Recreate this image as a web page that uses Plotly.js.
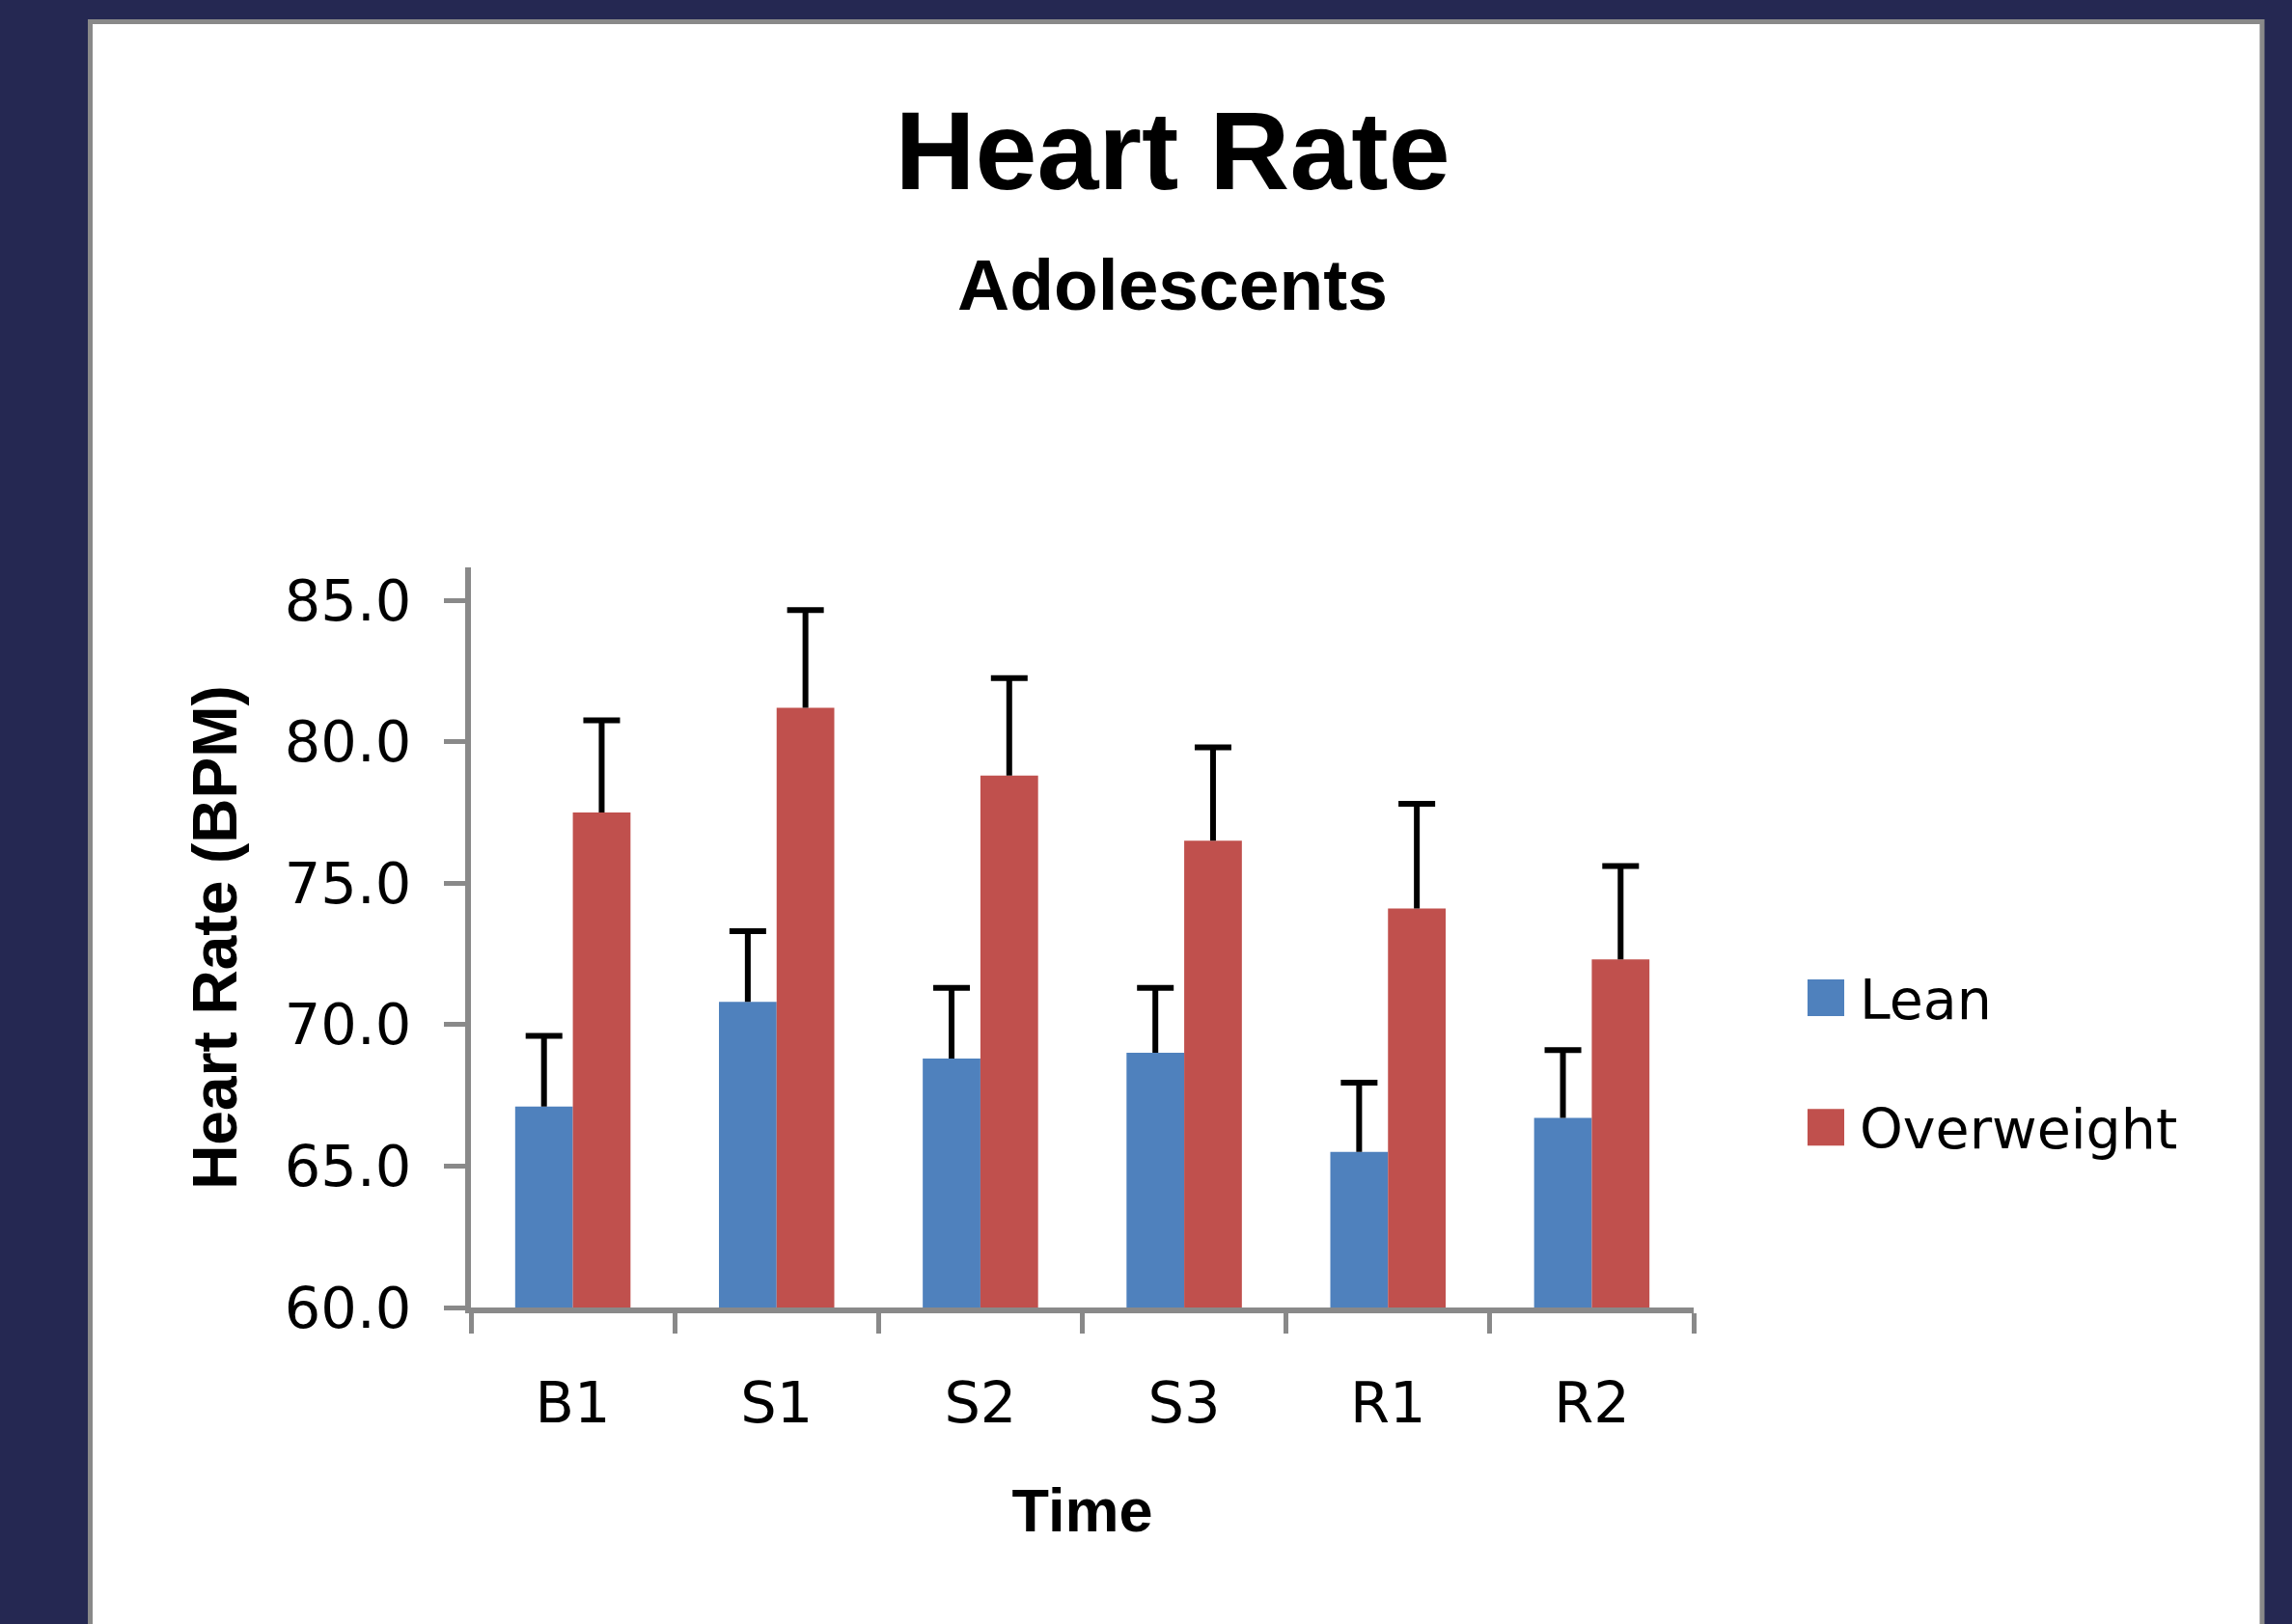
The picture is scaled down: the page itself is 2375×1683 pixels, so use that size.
<!DOCTYPE html>
<html><head><meta charset="utf-8">
<script src="https://cdn.plot.ly/plotly-3.0.1.min.js"></script>
<style>html,body{margin:0;padding:0;background:#252852;}#chart{width:2375px;height:1683px;}</style>
</head><body><div id="chart"></div>
<script>
// ---- data ----
const timePoints = ['B1', 'S1', 'S2', 'S3', 'R1', 'R2'];
const leanMean = [67.1, 70.8, 68.8, 69.0, 65.5, 66.7];
const leanErr = [2.5, 2.5, 2.5, 2.3, 2.45, 2.4];
const overweightMean = [77.5, 81.2, 78.8, 76.5, 74.1, 72.3];
const overweightErr = [3.25, 3.45, 3.45, 3.3, 3.7, 3.3];
const yTicks = [60, 65, 70, 75, 80, 85];
const seriesNames = ['Lean', 'Overweight'];

// ---- layout geometry (pixels) ----
const W = 2375, H = 1683;
const L = 488, R = 1755, T = 588, B = 1355;
const px = x => (x - L) / (R - L);
const py = y => (B - y) / (B - T);

const axisGray = '#898989';
const errStyle = {type: 'data', symmetric: false, color: '#000', thickness: 6, width: 19, visible: true};

const traces = [
  {type: 'bar', name: seriesNames[0], x: timePoints, y: leanMean, legendgroup: 'a',
   marker: {color: '#4F81BD', line: {width: 0}},
   error_y: Object.assign({array: leanErr, arrayminus: leanMean.map(() => 0)}, errStyle)},
  {type: 'bar', name: seriesNames[1], x: timePoints, y: overweightMean, legendgroup: 'b',
   marker: {color: '#C0504D', line: {width: 0}},
   error_y: Object.assign({array: overweightErr, arrayminus: overweightMean.map(() => 0)}, errStyle)}
];

const layout = {
  width: W, height: H,
  margin: {l: L, r: W - R, t: T, b: H - B, pad: 0},
  paper_bgcolor: '#252852',
  plot_bgcolor: 'rgba(0,0,0,0)',
  font: {family: 'DejaVu Sans', color: '#000', size: 59},
  barmode: 'group', bargap: 0.434, bargroupgap: 0,
  showlegend: true,
  title: {
    text: 'Heart Rate',
    font: {family: 'Liberation Sans', size: 115, color: '#000', weight: 'bold'},
    xref: 'container', x: 1215 / W, xanchor: 'center',
    yref: 'container', y: 1 - 115 / H, yanchor: 'top'
  },
  annotations: [{
    text: 'Adolescents', showarrow: false,
    font: {family: 'Liberation Sans', size: 75, color: '#000', weight: 'bold'},
    xref: 'paper', yref: 'paper', x: px(1215), y: py(295), xanchor: 'center', yanchor: 'middle'
  }],
  xaxis: {
    type: 'category', tickson: 'boundaries',
    showline: true, linecolor: axisGray, linewidth: 6,
    ticks: 'outside', ticklen: 21, tickwidth: 5, tickcolor: axisGray,
    showgrid: false, zeroline: false, fixedrange: true,
    tickfont: {family: 'DejaVu Sans', size: 59, color: '#000'},
    ticklabelstandoff: 42,
    title: {text: 'Time', font: {family: 'Liberation Sans', size: 63, color: '#000', weight: 'bold'}, standoff: 58}
  },
  yaxis: {
    range: [60, 86.16],
    tickvals: yTicks, tickformat: '.1f',
    showline: true, linecolor: axisGray, linewidth: 6,
    ticks: 'outside', ticklen: 22, tickwidth: 5, tickcolor: axisGray,
    showgrid: false, zeroline: false, fixedrange: true,
    tickfont: {family: 'DejaVu Sans', size: 59, color: '#000'},
    ticklabelstandoff: 22,
    title: {text: 'Heart Rate (BPM)', font: {family: 'Liberation Sans', size: 64, color: '#000', weight: 'bold'}, standoff: 30}
  },
  legend: {
    x: px(1857), xanchor: 'left', y: py(1101.5), yanchor: 'middle',
    font: {family: 'DejaVu Sans', size: 57, color: '#000'},
    bgcolor: 'rgba(0,0,0,0)', borderwidth: 0,
    itemwidth: 60, tracegroupgap: 57, traceorder: 'grouped'
  },
  shapes: [{
    type: 'rect', xref: 'paper', yref: 'paper', layer: 'below',
    x0: px(93.5), x1: px(2344), y0: py(1700), y1: py(22.5),
    line: {color: axisGray, width: 5}, fillcolor: '#ffffff'
  }]
};

// Excel-style look: larger square legend swatches, error bars without a base cap
function restyleMarks() {
  const root = document.getElementById('chart');
  root.querySelectorAll('.legend .legendpoints path').forEach(p => {
    const t = p.getAttribute('transform') || '';
    if (t.indexOf('scale(') === -1) p.setAttribute('transform', t + ' scale(3.17)');
  });
  root.querySelectorAll('.errorbar path').forEach(p => {
    const d = p.getAttribute('d') || '';
    const nd = d.replace(/m-[\d.]+,0h[\d.]+$/, '');
    if (nd !== d) p.setAttribute('d', nd);
  });
}

const chartDiv = document.getElementById('chart');
new MutationObserver(restyleMarks).observe(chartDiv, {childList: true, subtree: true, attributes: true, attributeFilter: ['transform', 'd']});
Plotly.newPlot(chartDiv, traces, layout, {displayModeBar: false, staticPlot: true}).then(() => {
  restyleMarks();
  setTimeout(restyleMarks, 200);
  setTimeout(restyleMarks, 600);
});
restyleMarks();
</script>
</body></html>
